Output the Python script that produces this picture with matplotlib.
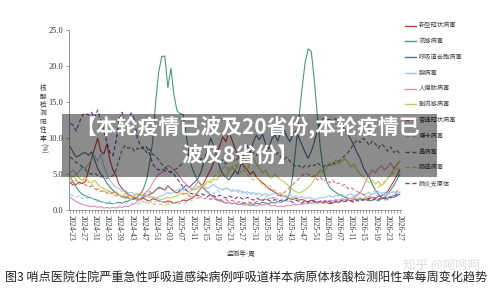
import matplotlib
matplotlib.use("Agg")
import matplotlib.pyplot as plt
from matplotlib.lines import Line2D
from matplotlib.patches import Rectangle

CJK = ["Noto Sans CJK SC", "DejaVu Sans"]
SERIF = ["Liberation Serif", "DejaVu Serif"]

weeks = ([f"2024-{w:02d}" for w in range(23, 53)]
         + [f"2025-{w:02d}" for w in range(1, 53)]
         + [f"2026-{w:02d}" for w in range(1, 28)])

names = ["新型冠状病毒", "流感病毒", "呼吸道合胞病毒", "腺病毒", "人偏肺病毒",
         "副流感病毒", "普通冠状病毒", "博卡病毒", "鼻病毒", "肠道病毒", "肺炎支原体"]

covid = [3.8, 3.5, 3.6, 3.9, 3.7, 4.0, 5.5, 7.2, 8.6, 10.0,
         8.2, 7.8, 9.2, 7.0, 5.6, 4.8, 3.6, 3.0, 2.6, 2.2,
         2.0, 1.8, 1.6, 1.5, 1.7, 1.4, 1.3, 1.6, 1.5, 1.3,
         1.2, 1.1, 1.3, 1.2, 1.0, 1.1, 1.2, 1.4, 1.3, 1.5,
         1.7, 2.0, 2.6, 3.2, 4.0, 4.8, 5.6, 6.6, 7.8, 9.0,
         10.2, 9.5, 10.8, 9.8, 8.6, 7.5, 6.8, 6.0, 5.6, 5.0,
         5.4, 4.6, 4.2, 3.8, 3.5, 3.0, 2.8, 2.5, 2.3, 2.0,
         2.0, 1.8, 1.6, 1.5, 1.7, 1.4, 1.5, 1.3, 1.2, 1.4,
         1.3, 1.1, 1.2, 1.0, 1.1, 0.9, 1.0, 1.2, 1.1, 1.3,
         1.2, 1.4, 1.3, 1.5, 1.4, 1.6, 1.5, 1.7, 1.6, 1.8,
         1.7, 1.9, 2.0, 2.2, 2.6, 3.3, 4.0, 4.8, 5.6]

flu = [4.5, 4.0, 3.2, 2.6, 2.2, 2.0, 1.8, 1.7, 1.5, 1.4,
       1.2, 1.1, 1.0, 1.0, 0.9, 1.0, 1.1, 1.0, 1.2, 1.3,
       1.5, 1.6, 1.8, 2.2, 3.0, 4.2, 6.5, 9.5, 15.0, 19.2,
       21.3, 21.4, 17.0, 19.7, 16.0, 13.8, 13.4, 13.3, 10.5, 7.5,
       5.8, 4.8, 4.0, 3.4, 2.9, 2.5, 2.1, 1.8, 1.5, 1.3,
       1.2, 1.0, 1.1, 0.9, 1.0, 0.8, 0.9, 1.0, 0.8, 0.9,
       0.8, 1.0, 0.9, 1.1, 1.0, 0.9, 1.1, 1.0, 1.2, 1.1,
       1.3, 1.5, 2.5, 5.0, 9.0, 13.0, 17.0, 20.5, 22.4, 22.0,
       18.0, 13.0, 8.5, 5.5, 4.0, 3.2, 2.8, 2.5, 2.2, 2.0,
       1.8, 1.7, 1.6, 1.8, 1.5, 1.6, 1.4, 1.5, 1.3, 1.4,
       1.5, 1.3, 1.6, 1.8, 2.2, 2.8, 3.4, 4.2, 5.0]

rsv = [8.8, 8.0, 7.4, 7.6, 7.9, 8.0, 7.6, 8.1, 7.0, 5.8,
       5.0, 4.5, 3.8, 3.2, 2.8, 2.4, 2.1, 2.0, 1.8, 1.7,
       1.5, 1.6, 1.4, 1.5, 1.8, 2.0, 2.2, 2.4, 2.8, 3.2,
       3.0, 2.8, 3.4, 3.0, 2.6, 2.4, 2.8, 3.0, 3.5, 3.2,
       3.6, 4.0, 4.5, 5.5, 7.0, 8.5, 10.0, 9.0, 7.5, 6.0,
       5.0, 4.6, 4.2, 4.8, 5.5, 5.0, 6.5, 7.8, 9.0, 8.0,
       9.5, 10.4, 9.8, 10.6, 9.2, 8.5, 9.8, 10.5, 9.6, 10.8,
       11.2, 10.2, 9.5, 10.5, 11.0, 10.0, 9.0, 8.0, 7.2, 8.2,
       9.5, 11.0, 12.2, 12.8, 12.5, 12.6, 12.4, 12.7, 12.3, 11.8,
       11.2, 10.6, 9.8, 9.0, 8.0, 7.2, 6.0, 5.2, 4.6, 3.6,
       2.8, 2.2, 1.8, 1.6, 1.7, 1.9, 1.8, 2.0, 2.2]

adeno = [5.2, 5.6, 5.0, 5.4, 6.0, 5.8, 6.4, 7.0, 7.6, 6.8,
         7.8, 6.2, 5.0, 4.2, 3.6, 3.2, 3.0, 2.6, 2.8, 2.4,
         2.5, 2.2, 2.3, 2.0, 1.9, 2.1, 2.0, 1.8, 1.7, 1.9,
         2.0, 2.2, 2.5, 2.3, 2.6, 2.8, 3.0, 2.7, 2.9, 3.2,
         3.0, 2.8, 3.1, 3.4, 3.2, 3.0, 3.3, 3.6, 3.2, 3.0,
         2.8, 3.1, 2.9, 2.6, 2.8, 2.5, 2.7, 2.4, 2.6, 2.3,
         2.5, 2.2, 2.4, 2.1, 2.3, 2.0, 2.2, 2.4, 2.1, 2.3,
         2.0, 1.9, 2.1, 1.8, 2.0, 1.7, 1.9, 1.6, 1.8, 1.7,
         1.5, 1.6, 1.8, 1.7, 1.9, 2.0, 1.8, 2.1, 2.0, 2.2,
         1.9, 2.1, 2.3, 2.0, 2.2, 2.4, 2.1, 2.3, 2.5, 2.2,
         2.4, 2.6, 2.3, 2.5, 2.2, 2.4, 2.6, 2.3, 2.5]

hmpv = [1.8, 1.5, 1.2, 1.0, 0.8, 0.7, 0.6, 0.5, 0.6, 0.4,
        0.5, 0.3, 0.4, 0.3, 0.4, 0.3, 0.5, 0.4, 0.6, 0.5,
        0.7, 0.9, 1.2, 1.6, 2.2, 2.6, 3.0, 3.8, 4.4, 5.0,
        5.2, 5.8, 6.2, 6.0, 5.6, 5.2, 4.6, 4.0, 3.6, 3.2,
        2.8, 3.4, 4.0, 3.6, 3.0, 2.6, 2.2, 1.8, 1.6, 1.4,
        1.2, 1.0, 1.1, 0.9, 1.0, 0.8, 0.9, 0.7, 0.8, 0.6,
        0.7, 0.6, 0.8, 0.7, 0.9, 0.8, 0.6, 0.7, 0.5, 0.6,
        0.5, 0.7, 0.6, 0.8, 0.7, 0.9, 0.8, 1.0, 0.9, 1.1,
        1.0, 1.2, 1.1, 1.3, 1.2, 1.4, 1.3, 1.5, 1.4, 1.6,
        1.5, 1.7, 1.6, 1.8, 2.0, 2.4, 3.2, 4.2, 5.0, 5.6,
        5.2, 5.8, 6.2, 5.6, 6.0, 6.6, 5.8, 6.4, 6.8]

paraflu = [4.8, 4.6, 5.0, 4.4, 4.2, 4.6, 4.0, 3.8, 4.2, 3.6,
           3.2, 3.0, 2.8, 2.6, 2.4, 2.6, 2.2, 2.0, 2.3, 2.1,
           1.9, 2.0, 2.2, 2.4, 2.1, 2.0, 1.8, 1.9, 1.7, 1.6,
           1.5, 1.6, 1.8, 1.7, 1.9, 2.0, 2.2, 2.4, 2.3, 2.6,
           2.8, 3.0, 3.4, 3.2, 3.6, 4.0, 3.8, 4.4, 4.2, 4.8,
           5.2, 4.6, 5.4, 6.0, 5.5, 6.4, 7.0, 6.2, 5.6, 6.6,
           7.2, 6.4, 5.8, 5.2, 5.6, 4.8, 4.4, 5.0, 4.6, 4.2,
           4.0, 3.6, 3.2, 2.8, 2.6, 2.4, 2.6, 2.8, 3.2, 3.6,
           4.4, 5.0, 5.6, 5.2, 6.0, 6.6, 6.2, 7.0, 6.4, 6.8,
           7.2, 6.6, 6.0, 6.4, 5.6, 5.0, 4.6, 4.2, 3.8, 4.2,
           3.6, 4.0, 3.4, 3.8, 4.4, 5.0, 5.6, 6.2, 6.8]

hcov = [4.0, 3.8, 4.2, 3.6, 3.9, 3.5, 3.2, 3.4, 3.0, 2.8,
        2.6, 2.8, 2.4, 2.2, 2.5, 2.0, 2.2, 1.8, 2.0, 1.9,
        1.7, 1.8, 2.0, 2.2, 2.0, 2.4, 2.6, 2.3, 2.8, 3.0,
        3.2, 2.8, 3.4, 3.0, 2.7, 2.4, 2.6, 2.2, 2.4, 2.0,
        1.8, 2.0, 1.7, 1.9, 1.6, 1.8, 1.5, 1.7, 1.4, 1.6,
        1.3, 1.5, 1.2, 1.4, 1.2, 1.1, 1.3, 1.0, 1.2, 1.1,
        1.0, 1.2, 1.3, 1.5, 1.4, 1.6, 1.8, 1.7, 2.0, 2.2,
        2.4, 2.8, 3.2, 3.6, 4.0, 4.4, 4.8, 5.2, 5.0, 4.6,
        4.8, 4.2, 4.6, 4.0, 4.4, 3.8, 4.2, 3.6, 3.8, 3.4,
        3.6, 3.0, 3.2, 2.8, 2.6, 2.4, 2.2, 2.0, 1.8, 1.6,
        1.8, 1.5, 1.6, 1.4, 1.5, 1.8, 2.2, 2.6, 3.0]

boca = [2.2, 2.0, 1.8, 2.1, 1.6, 1.9, 1.5, 1.7, 1.4, 1.2,
        1.3, 1.1, 1.0, 1.2, 0.9, 1.0, 0.8, 1.0, 0.9, 1.1,
        1.0, 0.8, 0.9, 1.0, 1.2, 1.1, 1.3, 1.0, 1.2, 1.4,
        1.2, 1.0, 1.1, 0.9, 1.0, 0.8, 1.0, 0.9, 1.1, 1.2,
        1.4, 1.6, 1.8, 2.0, 2.2, 2.4, 2.6, 2.3, 2.8, 2.5,
        2.9, 3.2, 2.8, 3.0, 2.6, 2.9, 2.4, 2.7, 2.2, 2.5,
        2.0, 2.3, 1.9, 2.1, 1.8, 2.0, 1.6, 1.8, 1.5, 1.7,
        1.4, 1.3, 1.2, 1.0, 0.9, 0.8, 1.0, 0.9, 1.1, 1.0,
        0.9, 1.1, 1.0, 1.2, 1.1, 1.3, 1.2, 1.4, 1.3, 1.5,
        1.4, 1.6, 1.5, 1.7, 1.6, 1.8, 1.7, 1.9, 2.0, 1.8,
        2.1, 2.0, 2.2, 2.1, 2.4, 2.2, 2.5, 2.3, 2.6]

rhino = [7.4, 7.0, 6.6, 6.4, 6.0, 5.6, 5.2, 5.0, 5.2, 4.8,
         4.6, 4.8, 4.4, 4.6, 4.8, 5.6, 7.0, 8.4, 9.0, 8.6,
         8.8, 8.2, 8.6, 8.4, 8.8, 8.0, 8.5, 7.8, 7.5, 7.0,
         6.4, 6.0, 5.6, 5.2, 5.6, 5.8, 6.2, 6.6, 7.2, 7.8,
         8.0, 7.4, 6.8, 7.2, 6.6, 7.0, 6.4, 6.8, 7.2, 6.6,
         7.0, 6.4, 6.8, 7.4, 6.8, 7.2, 7.8, 7.2, 6.8, 7.4,
         8.0, 7.6, 8.2, 7.8, 8.4, 7.8, 8.2, 7.6, 8.0, 7.4,
         7.0, 7.4, 6.8, 6.4, 6.0, 6.2, 5.8, 6.2, 6.0, 6.4,
         6.2, 6.6, 6.2, 6.0, 6.4, 6.2, 6.6, 6.4, 6.8, 7.2,
         7.6, 8.0, 8.6, 9.2, 9.8, 9.4, 10.0, 9.6, 9.0, 9.6,
         9.2, 8.6, 9.2, 8.8, 8.2, 8.8, 8.0, 8.4, 7.8]

entero = [4.4, 4.8, 4.2, 4.6, 4.0, 4.4, 3.8, 3.6, 3.2, 3.0,
          2.8, 2.6, 2.8, 2.4, 2.2, 2.0, 2.2, 1.8, 1.6, 1.8,
          1.5, 1.4, 1.6, 1.3, 1.2, 1.1, 1.0, 0.9, 0.8, 0.9,
          0.8, 0.7, 0.8, 0.9, 1.0, 1.1, 1.2, 1.4, 1.6, 1.8,
          2.0, 2.3, 2.6, 3.0, 3.4, 3.8, 4.2, 4.6, 5.0, 5.4,
          5.8, 6.2, 5.6, 6.0, 6.4, 5.8, 5.2, 5.6, 5.0, 4.6,
          4.2, 4.6, 4.0, 3.6, 3.2, 3.6, 3.0, 2.8, 2.6, 2.4,
          2.2, 2.0, 1.8, 1.6, 1.5, 1.4, 1.3, 1.2, 1.1, 1.0,
          1.0, 0.9, 0.9, 1.0, 1.0, 1.1, 1.2, 1.1, 1.3, 1.2,
          1.4, 1.3, 1.5, 1.6, 1.5, 1.7, 1.8, 1.6, 2.0, 2.4,
          2.8, 3.2, 3.6, 4.0, 4.4, 4.8, 5.2, 5.6, 6.0]

myco = [12.0, 11.8, 11.0, 12.2, 13.2, 13.5, 13.2, 13.6, 12.8, 13.9,
        12.5, 11.0, 9.5, 8.0, 7.6, 9.5, 12.5, 13.6, 11.8, 12.4,
        13.5, 12.6, 10.0, 9.0, 8.5, 8.8, 7.8, 6.5, 5.8, 5.6,
        5.7, 5.5, 5.3, 5.4, 5.0, 4.4, 3.8, 3.2, 2.8, 2.4,
        2.3, 2.2, 2.0, 2.3, 2.1, 1.9, 2.2, 2.0, 1.8, 2.1,
        1.9, 1.7, 2.0, 1.8, 1.6, 1.9, 1.7, 1.5, 1.8, 1.6,
        1.4, 1.7, 1.5, 1.3, 1.6, 1.4, 1.2, 1.5, 1.3, 1.4,
        1.2, 1.5, 1.3, 1.1, 1.4, 1.2, 1.0, 1.3, 1.1, 1.4,
        1.2, 1.0, 1.3, 1.1, 1.4, 1.2, 1.0, 1.3, 1.1, 1.4,
        1.2, 1.5, 1.3, 1.1, 1.4, 1.2, 1.5, 1.3, 1.6, 1.4,
        1.7, 1.5, 1.8, 1.6, 1.9, 1.7, 2.0, 2.2, 2.4]

series = [covid, flu, rsv, adeno, hmpv, paraflu, hcov, boca, rhino, entero, myco]
colors = ["#b8423e", "#4f9680", "#52708f", "#9fc6e6", "#e08bbb", "#c6cc5a",
          "#e0766b", "#a9cde9", "#5c7a74", "#d6c866", "#7b3aa8"]
dashed = [False, False, False, False, False, False, True, True, True, True, True]

fig = plt.figure(figsize=(5.0, 2.92), dpi=100)
W, H = 500.0, 292.0
ax = fig.add_axes([69 / W, (H - 210.3) / H, 332 / W, 180.3 / H])

x = list(range(len(weeks)))
for vals, c, d in zip(series, colors, dashed):
    if d:
        ax.plot(x, vals, color=c, lw=0.8, dashes=(3.5, 2.2))
    else:
        ax.plot(x, vals, color=c, lw=0.8)

ax.set_xlim(-0.4, len(weeks) - 0.6)
ax.set_ylim(0, 25)
yt = [0, 5, 10, 15, 20, 25]
ax.set_yticks(yt)
ax.set_yticklabels([f"{v:.1f}" for v in yt], fontsize=6, family=SERIF, color="#333333")
ax.set_xticks(x[::4])
ax.set_xticklabels(weeks[::4], rotation=-90, fontsize=5.6, family=SERIF, color="#333333")
ax.set_xticks(x, minor=True)
ax.tick_params(axis="x", which="both", length=2, width=0.5, color="#777777", pad=1.5)
ax.tick_params(axis="y", length=2, width=0.5, color="#777777", pad=2)
for s in ["top", "right"]:
    ax.spines[s].set_visible(False)
for s in ["left", "bottom"]:
    ax.spines[s].set_color("#888888")
    ax.spines[s].set_linewidth(0.6)

# y label (stacked characters)
fig.text(43 / W, 1 - 84 / H, "核\n酸\n检\n测\n阳\n性\n率", family=CJK, fontsize=4.8,
         ha="center", va="top", linespacing=1.08, color="#333333")
fig.text(43 / W, 1 - 148 / H, "(%)", family=CJK, fontsize=4.8, rotation=-90,
         ha="center", va="center", color="#333333")
# x label
fig.text(241 / W, 1 - 254 / H, "监测年-周", family=CJK, fontsize=4.8,
         ha="center", va="center", color="#333333")

# legend
for k, (nm, c, d) in enumerate(zip(names, colors, dashed)):
    yy = 1 - (25.5 + 15.75 * k) / H
    ln = Line2D([405 / W, 416 / W], [yy, yy], transform=fig.transFigure,
                color=c, lw=1.0)
    if d:
        ln.set_dashes((3.0, 2.0))
    fig.add_artist(ln)
    fig.text(419 / W, yy, nm, family=CJK, fontsize=4.5, ha="left", va="center",
             color="#444444")

# caption
fig.text(5 / W, 1 - 277 / H, "图3 哨点医院住院严重急性呼吸道感染病例呼吸道样本病原体核酸检测阳性率每周变化趋势",
         family=CJK, fontsize=8.7, ha="left", va="center", color="#222222")
# watermark
fig.text(442 / W, 1 - 265 / H, "知乎 @呵呵呵", family=CJK, fontsize=9,
         ha="center", va="center", color="#c8c8c8", alpha=0.6, zorder=12)

# overlay banner
banner = Rectangle((62 / W, 1 - 177 / H), 375 / W, 63 / H, transform=fig.transFigure,
                   facecolor="black", alpha=0.45, edgecolor="none", zorder=20)
fig.add_artist(banner)
fig.text(247.5 / W, 1 - 128 / H, "【本轮疫情已波及20省份,本轮疫情已", family=CJK,
         fontsize=15, weight="bold", color="white", ha="center", va="center", zorder=21)
fig.text(240 / W, 1 - 156 / H, "波及8省份】", family=CJK,
         fontsize=15, weight="bold", color="white", ha="center", va="center", zorder=21)

fig.savefig("out.png", dpi=100)
